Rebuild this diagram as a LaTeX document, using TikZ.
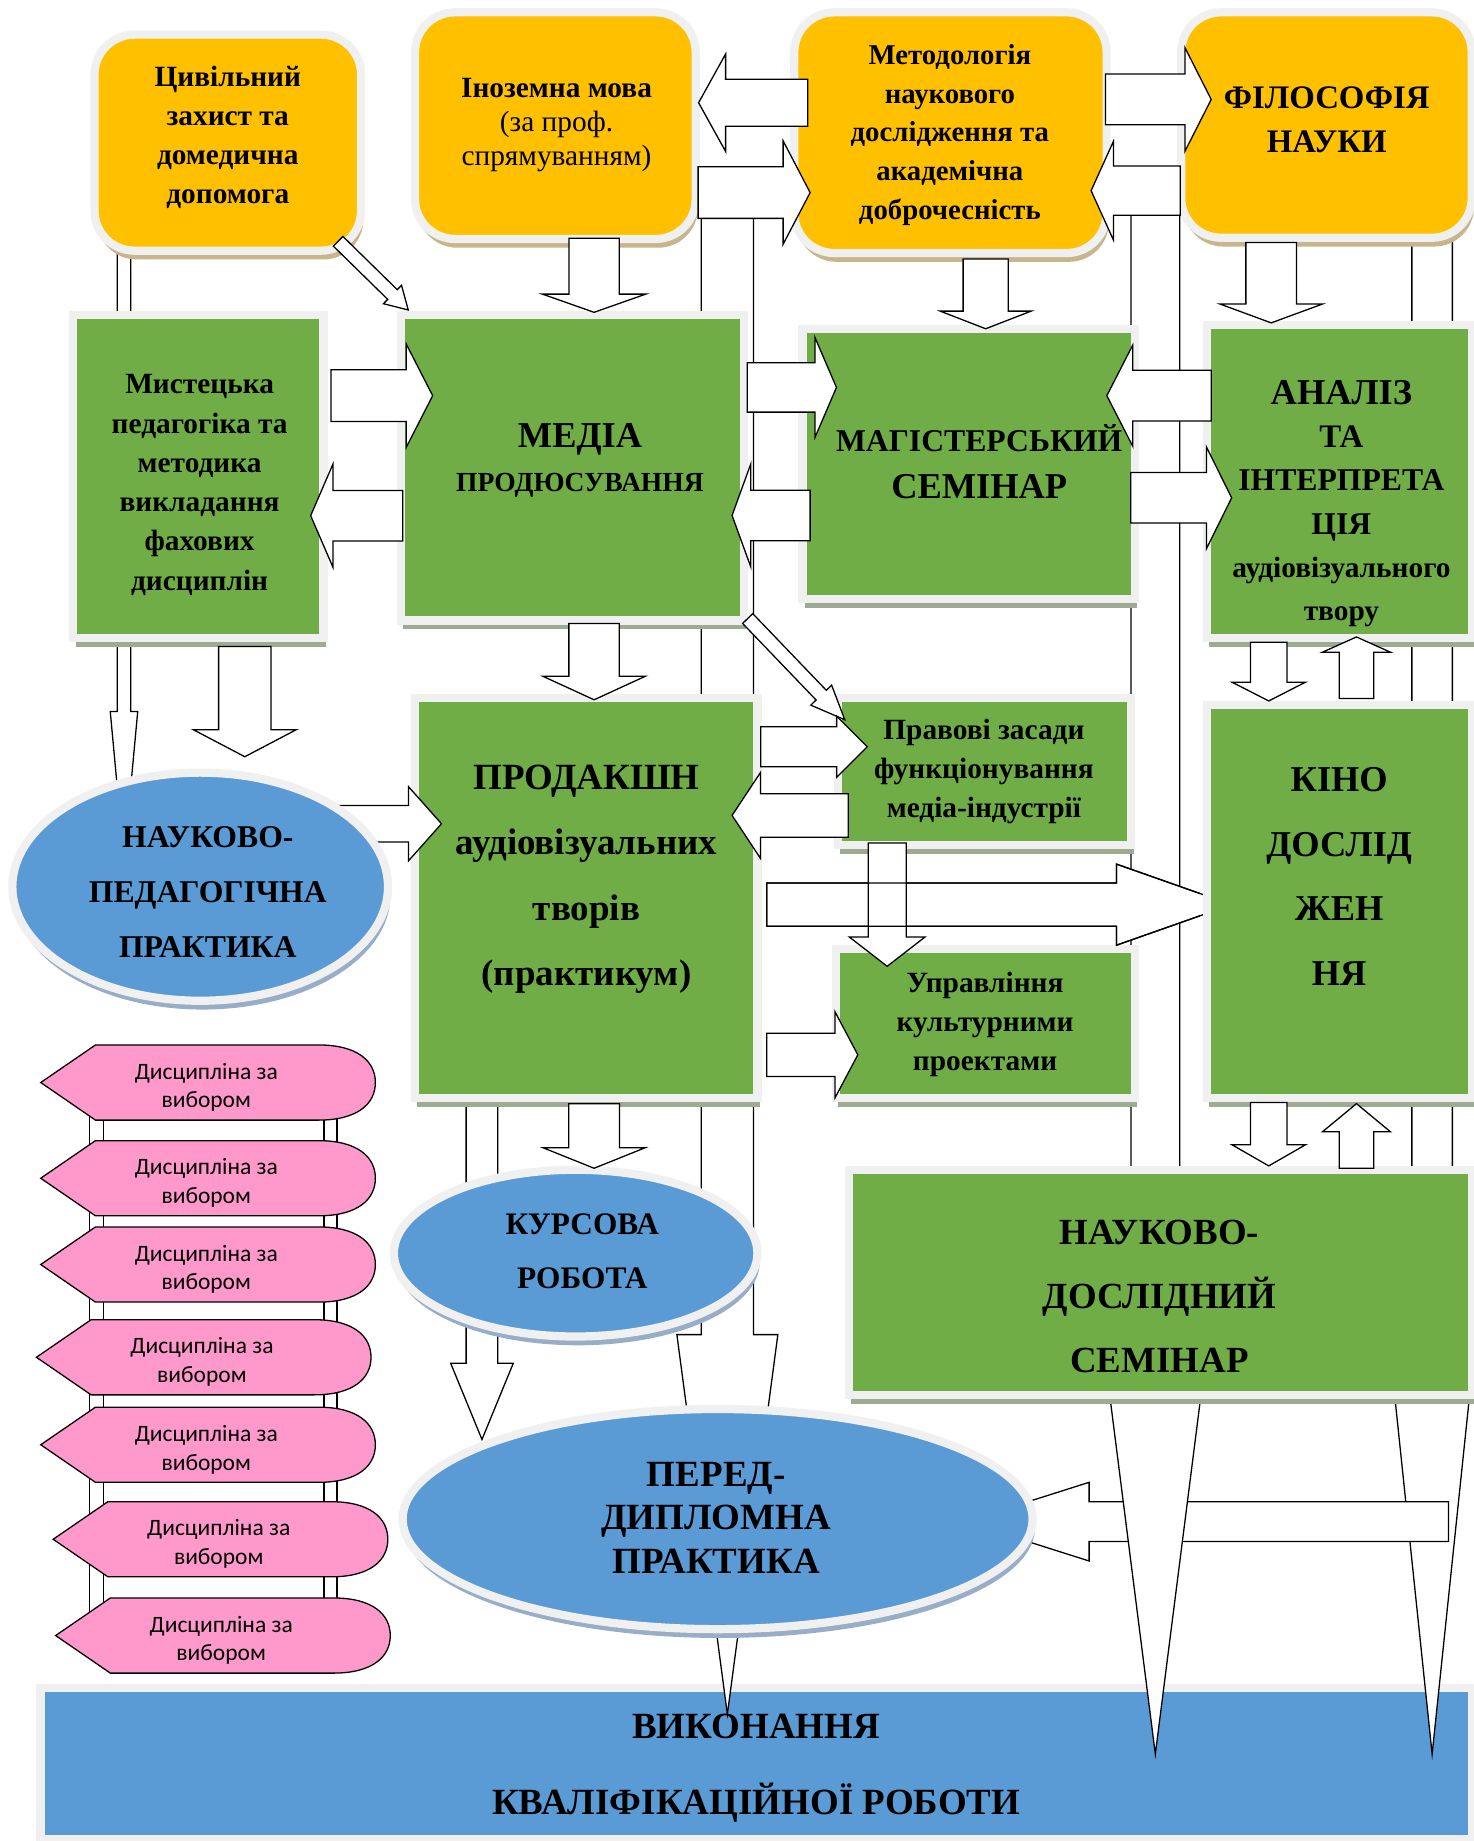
\documentclass[tikz,border=0pt]{standalone}
\usepackage{fontspec}
\setmainfont{Liberation Serif}
\newfontfamily\pinkfont{Carlito}
\usetikzlibrary{calc,shapes.geometric,shadows}

\definecolor{boxgreen}{HTML}{70AD47}
\definecolor{boxorange}{HTML}{FFC000}
\definecolor{boxblue}{HTML}{5B9BD5}
\definecolor{boxpink}{HTML}{FF99CC}
\definecolor{boxedge}{HTML}{F0F0F0}
\definecolor{greenshade}{HTML}{9EAB92}
\definecolor{orangeshade}{HTML}{C7B68C}
\definecolor{blueshade}{HTML}{98ADC8}

\newcommand\fsz[2]{\fontsize{#1pt}{#2pt}\selectfont}

\tikzset{
  boxframe/.style={draw=boxedge, line width=7pt, inner sep=0pt},
  ybox/.style={boxframe, fill=boxorange, rounded corners=34pt,
    drop shadow={shadow xshift=2pt, shadow yshift=-7.5pt, fill=orangeshade, opacity=1}},
  gbox/.style={boxframe, fill=boxgreen,
    drop shadow={shadow xshift=2pt, shadow yshift=-7.5pt, fill=greenshade, opacity=1}},
  bell/.style={boxframe, ellipse, fill=boxblue,
    drop shadow={shadow xshift=2pt, shadow yshift=-7.5pt, fill=blueshade, opacity=1}},
  bbox/.style={boxframe, fill=boxblue},
  txt/.style={align=center, inner sep=0pt},
  pinktxt/.style={align=center, inner sep=0pt, font={\pinkfont\fsz{20}{24.5}}},
  barrow/.style={draw=black, fill=white, line width=1.1pt},
  signshape/.style={draw=black, fill=boxpink, line width=1.1pt}
}

% hollow block arrow: [style]{tail}{tip}{shaft half}{head half}{head length}
\newcommand\flowarrow[6][]{%
  \path #2 coordinate (fa-a) #3 coordinate (fa-b);
  \draw[barrow,#1] let \p1=(fa-a), \p2=(fa-b), \n1={atan2(\y2-\y1,\x2-\x1)},
      \p3=($(\p2)+(\n1+180:#6pt)$) in
    ($(\p1)+(\n1+90:#4pt)$) -- ($(\p3)+(\n1+90:#4pt)$) -- ($(\p3)+(\n1+90:#5pt)$)
    -- (\p2) -- ($(\p3)+(\n1-90:#5pt)$) -- ($(\p3)+(\n1-90:#4pt)$)
    -- ($(\p1)+(\n1-90:#4pt)$) -- cycle;}

% pink signpost: name, left tip x, centre y
\newcommand\signpost[3]{%
  \draw[signshape] (#2,#3) -- (#2+46.6,#3-32) -- (#2+236.6,#3-32)
    .. controls (#2+270,#3-32) and (#2+285,#3-18) .. (#2+285,#3)
    .. controls (#2+285,#3+18) and (#2+270,#3+32) .. (#2+236.6,#3+32)
    -- (#2+46.6,#3+32) -- cycle;
  \node[pinktxt] (#1) at (#2+141,#3+4) {Дисципліна за\\вибором};}

\begin{document}
\begin{tikzpicture}[x=1pt, y=-1pt]

  \fill[white] (0,0) rectangle (1255,1568);
  \useasboundingbox (0,0) rectangle (1255,1568);

  % bottom bar
  \node[bbox, minimum width=1219pt, minimum height=128.6pt] (vykon) at (644,1501.8) {};

  % long arrows behind the boxes
  \flowarrow{(1219.75,150)}{(1219.75,1494)}{17.25}{40}{383}
  \flowarrow{(1233.6,1296)}{(822,1296)}{16.9}{33.5}{105.6}
  \flowarrow{(984,160)}{(984,1494)}{20.75}{45}{354}
  \flowarrow{(105.6,150)}{(105.6,732)}{5.7}{11.7}{126}
  \flowarrow{(619.5,160)}{(619.5,1460)}{22.3}{43}{323.3}
  \flowarrow{(410.5,800)}{(410.5,1226)}{13.5}{26.7}{65}

  % posts of the signposts
  \draw[barrow] (76,945) rectangle (88,1375);
  \draw[barrow] (276,945) rectangle (287,1375);

  % boxes
  \node[ybox, minimum width=227pt, minimum height=184pt] (civ) at (194,121.5) {};
  \node[ybox, minimum width=239pt, minimum height=193pt] (foreign) at (473,107) {};
  \node[ybox, minimum width=266pt, minimum height=205pt] (method) at (809.5,113) {};
  \node[ybox, minimum width=247.5pt, minimum height=192pt] (filos) at (1129.75,106.5) {};
  \node[gbox, minimum width=213pt, minimum height=275pt] (mystets) at (169,406) {};
  \node[gbox, minimum width=292pt, minimum height=260pt] (media) at (487.5,398.5) {};
  \node[gbox, minimum width=283pt, minimum height=230pt] (magister) at (825,395) {};
  \node[gbox, minimum width=225.5pt, minimum height=266.4pt] (analiz) at (1140.75,410.3) {};
  \node[gbox, minimum width=291.6pt, minimum height=341pt] (prod) at (499.3,765) {};
  \node[gbox, minimum width=250pt, minimum height=125pt] (pravovi) at (838.5,657) {};
  \node[gbox, minimum width=254.4pt, minimum height=127pt] (upravl) at (839.3,872) {};
  \node[bell, minimum width=309.6pt, minimum height=142pt] (kursova) at (490.3,1067.3) {};
  \node[gbox, minimum width=530.5pt, minimum height=192pt] (ndsem) at (988.25,1092.2) {};
  \node[bell, minimum width=536.6pt, minimum height=187.5pt] (peddip) at (611.2,1293.8) {};

  % prod -> kino, under the kino box
  \flowarrow{(653,770.5)}{(1049,770.5)}{18.4}{34.5}{98}
  \node[gbox, minimum width=225.5pt, minimum height=335pt] (kino) at (1140.75,768) {};

  % practice -> prod, under the ellipse
  \flowarrow{(280,701.6)}{(376,701.6)}{15.5}{31.5}{28}
  \node[bell, minimum width=320pt, minimum height=194.3pt] (nped) at (170.5,755.2) {};

  % short arrows
  \flowarrow{(288,205.5)}{(347.7,264)}{5.8}{11}{18.8}
  \flowarrow{(688,87.5)}{(595,87.5)}{20}{41.5}{23}
  \flowarrow{(594.6,164)}{(690,164)}{22}{44}{23}
  \flowarrow{(941.5,84.7)}{(1031.6,84.7)}{21.6}{44}{22.3}
  \flowarrow{(1005.3,162.4)}{(929.3,162.4)}{21}{42}{19}
  \flowarrow{(506,203)}{(506,266)}{21.4}{44}{15.5}
  \flowarrow{(839.5,220.6)}{(839.5,280)}{19.2}{38.7}{15}
  \flowarrow{(1082.7,206.5)}{(1082.7,275)}{21.6}{43.5}{16}
  \flowarrow{(282,337)}{(368.5,337)}{22}{44}{22.5}
  \flowarrow{(343,439.2)}{(264.6,439.2)}{21.5}{44}{19}
  \flowarrow{(636.4,330)}{(712.4,330)}{21}{42.4}{18.2}
  \flowarrow{(690,439)}{(623.5,439)}{21.5}{44}{16}
  \flowarrow{(1031.6,337)}{(942.7,337)}{21.6}{43}{22}
  \flowarrow{(963,424)}{(1049,424)}{21.5}{43.4}{21.5}
  \flowarrow{(208.5,550.7)}{(208.5,644.5)}{22.3}{43.8}{23}
  \flowarrow{(506,531)}{(506,596)}{21.5}{43.6}{20}
  \flowarrow{(636.8,526.8)}{(719.5,613)}{6}{12.3}{29}
  \flowarrow{(1080.6,547)}{(1080.6,597)}{15.6}{31.3}{16}
  \flowarrow{(1155.3,595)}{(1155.3,542.5)}{14.7}{29}{13}
  \flowarrow{(648,636)}{(738.7,636)}{17}{26}{26}
  \flowarrow{(722.5,694.5)}{(623.5,694.5)}{18.5}{36.7}{24.3}
  \flowarrow{(755.6,718)}{(755.6,823)}{16.2}{32.3}{25}
  \begin{scope}
    \clip (645,720) rectangle (1022,812);
    \flowarrow[fill=none]{(653,770.5)}{(1049,770.5)}{18.4}{34.5}{98}
  \end{scope}
  \flowarrow{(653,898.4)}{(730.6,898.4)}{18.4}{36.6}{19.4}
  \flowarrow{(506,940)}{(506,995)}{21.6}{43.6}{17.5}
  \flowarrow{(1080.6,939)}{(1080.6,993)}{15.6}{31.3}{18}
  \flowarrow{(1155.3,995)}{(1155.3,940)}{14.7}{29}{24}

  % elective signposts
  \foreach \nm/\px/\py in {d1/34.7/922, d2/34.7/1003.5, d3/34.7/1077, d4/31/1156,
      d5/34.7/1230.5, d6/45.3/1311, d7/47.4/1393}
    {\signpost{\nm}{\px}{\py}}

  % texts
  \node[txt, font={\bfseries\fsz{25}{33}}] (civtext) at (194,117)
    {Цивільний\\захист та\\домедична\\допомога};
  \node[txt, font={\fsz{25}{29}}] (foreigntext) at (474,106.5)
    {\textbf{Іноземна мова}\\(за проф.\\спрямуванням)};
  \node[txt, font={\bfseries\fsz{24.5}{33}}] (methodtext) at (809,115)
    {Методологія\\наукового\\дослідження та\\академічна\\доброчесність};
  \node[txt, font={\bfseries\fsz{28}{37}}] (filostext) at (1130,102)
    {ФІЛОСОФІЯ\\НАУКИ};
  \node[txt, font={\bfseries\fsz{25}{33.4}}] (mystetstext) at (170,413)
    {Мистецька\\педагогіка та\\методика\\викладання\\фахових\\дисциплін};
  \node[txt, font={\bfseries\fsz{23.5}{37}}] (mediatext) at (494,392)
    {{\fsz{31}{37}МЕДІА}\\ПРОДЮСУВАННЯ};
  \node[txt, font={\bfseries\fsz{27}{40}}] (magistertext) at (834,393)
    {МАГІСТЕРСЬКИЙ\\{\fsz{31}{40}СЕМІНАР}};
  \node[txt, font={\bfseries\fsz{25}{36.8}}] (analiztext) at (1142.5,429)
    {{\fsz{31}{36.8}АНАЛІЗ}\\{\fsz{28}{36.8}ТА}\\{\fsz{27}{36.8}ІНТЕРПРЕТА}\\{\fsz{27}{36.8}ЦІЯ}\\аудіовізуального\\твору};
  \node[txt, font={\bfseries\fsz{27}{47}}] (npedtext) at (177,759.5)
    {НАУКОВО-\\ПЕДАГОГІЧНА\\ПРАКТИКА};
  \node[txt, font={\bfseries\fsz{31.5}{55.7}}] (prodtext) at (499.5,749)
    {ПРОДАКШН\\аудіовізуальних\\творів\\(практикум)};
  \node[txt, font={\bfseries\fsz{25}{33}}] (pravovitext) at (838,657)
    {Правові засади\\функціонування\\медіа-індустрії};
  \node[txt, font={\bfseries\fsz{25}{33.5}}] (upravltext) at (839,872.5)
    {Управління\\культурними\\проектами};
  \node[txt, font={\bfseries\fsz{31}{55}}] (kinotext) at (1140.6,746.5)
    {КІНО\\ДОСЛІД\\ЖЕН\\НЯ};
  \node[txt, font={\bfseries\fsz{26.7}{46}}] (kursovatext) at (496,1066)
    {КУРСОВА\\РОБОТА};
  \node[txt, font={\bfseries\fsz{31.4}{54.5}}] (ndsemtext) at (987.5,1104)
    {НАУКОВО-\\ДОСЛІДНИЙ\\СЕМІНАР};
  \node[txt, font={\bfseries\fsz{31.5}{37}}] (peddiptext) at (610,1292.5)
    {ПЕРЕД-\\ДИПЛОМНА\\ПРАКТИКА};
  \node[txt, font={\bfseries\fsz{31.5}{64}}] (vykontext) at (644,1506)
    {ВИКОНАННЯ\\КВАЛІФІКАЦІЙНОЇ РОБОТИ};

\end{tikzpicture}
\end{document}
